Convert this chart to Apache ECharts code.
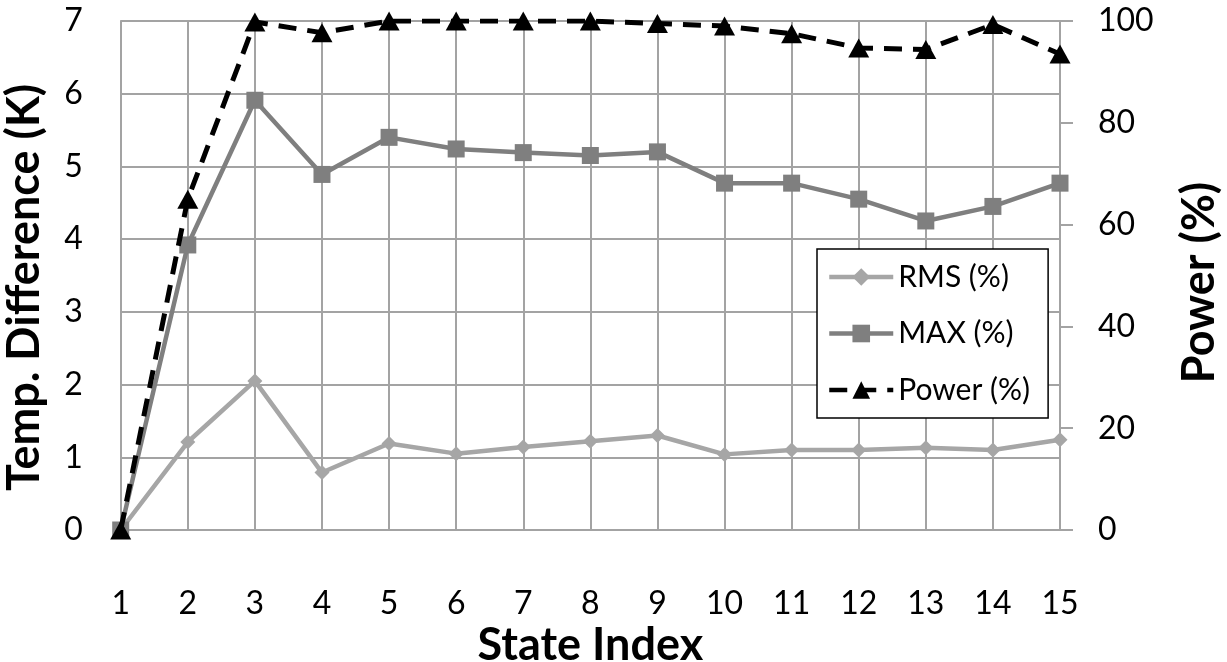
<!DOCTYPE html>
<html>
<head>
<meta charset="utf-8">
<script src="https://cdn.jsdelivr.net/npm/echarts@6/dist/echarts.min.js"></script>
<style>html,body{margin:0;padding:0;background:#fff}#c{width:1227px;height:662px}</style>
</head>
<body>
<div id="c"></div>
<script>
const categories = ['1','2','3','4','5','6','7','8','9','10','11','12','13','14','15'];
const rmsValues = [0, 1.21, 2.05, 0.79, 1.19, 1.05, 1.14, 1.22, 1.30, 1.04, 1.10, 1.10, 1.13, 1.10, 1.24];
const maxValues = [0, 3.92, 5.91, 4.89, 5.40, 5.24, 5.19, 5.15, 5.20, 4.77, 4.77, 4.55, 4.25, 4.45, 4.77];
const powerValues = [0, 65, 99.8, 97.7, 100, 100, 100, 100, 99.5, 99, 97.5, 94.7, 94.4, 99.3, 93.5];
const seriesNames = ['RMS (%)', 'MAX (%)', 'Power (%)'];
const leftTitle = 'Temp. Difference (K)';
const rightTitle = 'Power (%)';
const xTitle = 'State Index';

const FONT = 'Lato';
const gridColor = '#a3a3a3';
const chart = echarts.init(document.getElementById('c'));
chart.setOption({
  animation: false,
  backgroundColor: '#ffffff',
  textStyle: { fontFamily: FONT },
  grid: { left: 120.7, right: 167, top: 21, bottom: 132, containLabel: false, outerBoundsMode: 'none' },
  legend: {
    data: seriesNames,
    orient: 'vertical',
    left: 817, top: 249,
    backgroundColor: '#ffffff',
    borderColor: '#000000', borderWidth: 1.5, borderRadius: 0,
    padding: [13, 18, 13, 10],
    itemWidth: 64, itemHeight: 22, itemGap: 26.5,
    lineStyle: { width: 4.5 },
    textStyle: { fontFamily: FONT, fontSize: 30, color: '#000' }
  },
  xAxis: {
    type: 'category', data: categories, boundaryGap: false,
    name: xTitle, nameLocation: 'middle', nameGap: 93, nameMoveOverlap: false,
    nameTextStyle: { fontFamily: FONT, fontSize: 45, fontWeight: 'bold', color: '#000' },
    axisLine: { lineStyle: { color: gridColor, width: 2 } },
    axisTick: { show: false },
    axisLabel: { fontFamily: FONT, fontSize: 32, color: '#000', margin: 58 },
    splitLine: { show: true, lineStyle: { color: gridColor, width: 2 } }
  },
  yAxis: [
    {
      type: 'value', min: 0, max: 7, interval: 1, position: 'left',
      name: leftTitle, nameLocation: 'middle', nameGap: 74, nameRotate: 90, nameMoveOverlap: false,
      nameTextStyle: { fontFamily: FONT, fontSize: 45, fontWeight: 'bold', color: '#000', padding: [0, 24, 0, 0] },
      axisLine: { show: true, lineStyle: { color: gridColor, width: 2 } },
      axisTick: { show: false },
      axisLabel: { fontFamily: FONT, fontSize: 32, color: '#000', margin: 38 },
      splitLine: { show: true, lineStyle: { color: gridColor, width: 2 } }
    },
    {
      type: 'value', min: 0, max: 100, interval: 20, position: 'right',
      name: rightTitle, nameLocation: 'middle', nameGap: 117, nameRotate: 90, nameMoveOverlap: false,
      nameTextStyle: { fontFamily: FONT, fontSize: 45, fontWeight: 'bold', color: '#000', padding: [0, 14, 0, 0] },
      axisLine: { show: true, lineStyle: { color: gridColor, width: 2 } },
      axisTick: { show: true, length: 13, inside: false, lineStyle: { color: gridColor, width: 2 } },
      axisLabel: { fontFamily: FONT, fontSize: 32, color: '#000', margin: 38 },
      splitLine: { show: false }
    }
  ],
  series: [
    {
      name: seriesNames[0], type: 'line', yAxisIndex: 0, data: rmsValues,
      symbol: 'diamond', symbolSize: 15, showAllSymbol: true,
      lineStyle: { color: '#a6a6a6', width: 4.5 },
      itemStyle: { color: '#a6a6a6' }, z: 3
    },
    {
      name: seriesNames[1], type: 'line', yAxisIndex: 0, data: maxValues,
      symbol: 'rect', symbolSize: 17, showAllSymbol: true,
      lineStyle: { color: '#7f7f7f', width: 4.5 },
      itemStyle: { color: '#7f7f7f' }, z: 4
    },
    {
      name: seriesNames[2], type: 'line', yAxisIndex: 1, data: powerValues,
      symbol: 'triangle', symbolSize: [21, 19], showAllSymbol: true,
      lineStyle: { color: '#000000', width: 5, type: [18, 11] },
      itemStyle: { color: '#000000' }, z: 5
    }
  ]
});
</script>
</body>
</html>
